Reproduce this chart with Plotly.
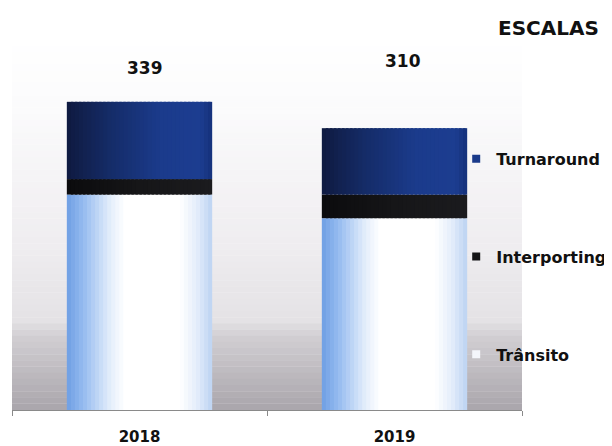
import plotly.graph_objects as go
import numpy as np

# ---- data ----
years = ["2018", "2019"]
transito = [237, 211]
interporting = [17, 26]
turnaround = [85, 73]
series_names = ["Trânsito", "Interporting", "Turnaround"]
chart_title = "ESCALAS"

series_values = [transito, interporting, turnaround]
totals = [a + b + c for a, b, c in zip(transito, interporting, turnaround)]
xpos = list(range(len(years)))

# ---- style ----
def hex2rgb(h):
    h = h.lstrip("#")
    return np.array([int(h[i:i + 2], 16) for i in (0, 2, 4)], dtype=float)

def grad(stops, t):
    for (t0, c0), (t1, c1) in zip(stops[:-1], stops[1:]):
        if t0 <= t <= t1:
            f = 0 if t1 == t0 else (t - t0) / (t1 - t0)
            c = hex2rgb(c0) * (1 - f) + hex2rgb(c1) * f
            return "rgb(%d,%d,%d)" % tuple(np.round(c))
    c = hex2rgb(stops[-1][1])
    return "rgb(%d,%d,%d)" % tuple(np.round(c))

gradients = [
    [(0, "#6e9fe4"), (0.12, "#98bdf0"), (0.3, "#e4eefb"), (0.4, "#ffffff"),
     (0.78, "#ffffff"), (0.9, "#e2ecfa"), (1.0, "#bcd3f2")],
    [(0, "#0b0b0d"), (0.5, "#161618"), (1.0, "#1b1b1e")],
    [(0, "#0f1a40"), (0.3, "#152c68"), (0.65, "#1b3b8c"), (0.92, "#1c3d90"), (1.0, "#15317a")],
]
legend_colors = ["#f4f6fb", "#141416", "#1a3a8a"]

bw = 0.57
N = 36
font = "DejaVu Sans"

fig = go.Figure()

base = [0] * len(years)
for si, (name, vals) in enumerate(zip(series_names, series_values)):
    for k in range(N):
        t = (k + 0.5) / N
        w = bw / N * (1 if k == N - 1 else 1.6)
        fig.add_trace(go.Bar(
            x=xpos, y=vals, base=base,
            width=w, offset=-bw / 2 + k * bw / N,
            marker=dict(color=grad(gradients[si], t), line=dict(width=0)),
            showlegend=False, legendgroup=name, name=name, hoverinfo="skip",
        ))
    base = [b + v for b, v in zip(base, vals)]

# legend entries (top to bottom: Turnaround, Interporting, Trânsito)
for si in reversed(range(len(series_names))):
    name = series_names[si]
    fig.add_trace(go.Scatter(
        x=[None], y=[None], mode="markers", name=name, legendgroup=name,
        marker=dict(symbol="square", size=8, color=legend_colors[si],
                    line=dict(width=0)),
    ))

# background gradient of plot area (top -> bottom)
bg_stops = [(0, "#ffffff"), (0.18, "#fbfbfc"), (0.55, "#efedf0"),
            (0.76, "#e4e2e5"), (0.8, "#d2cfd3"), (1.0, "#a9a5ab")]
M = 60
shapes = []
for i in range(M):
    y0 = 1 - i / M
    y1 = 1 - (i + 1) / M
    shapes.append(dict(type="rect", xref="paper", yref="paper", x0=0, x1=1,
                       y0=y1, y1=y0 + 0.001, layer="below",
                       fillcolor=grad(bg_stops, (i + 0.5) / M), line=dict(width=0)))

annotations = []
label_y = [0.924, 0.943]
label_dx = [5, 8]
for xp, tot, ly, dx in zip(xpos, totals, label_y, label_dx):
    annotations.append(dict(x=xp, y=ly, xref="x", yref="paper", text=str(tot),
                            showarrow=False, xshift=dx, xanchor="center",
                            yanchor="middle",
                            font=dict(family=font, size=17, color="#111111",
                                      weight="bold")))
annotations.append(dict(x=1.051, y=1.032, xref="paper", yref="paper",
                        text=chart_title, showarrow=False, xanchor="center",
                        yanchor="middle",
                        font=dict(family=font, size=20, color="#111111", weight="bold")))

fig.update_layout(
    width=604, height=438,
    margin=dict(l=4, r=90, t=32, b=36, autoexpand=False),
    barmode="overlay",
    paper_bgcolor="white",
    plot_bgcolor="white",
    shapes=shapes,
    annotations=annotations,
    showlegend=True,
    legend=dict(x=0.871, y=0.725, xanchor="left", yanchor="top",
                traceorder="grouped", tracegroupgap=74,
                bgcolor="rgba(0,0,0,0)",
                font=dict(family=font, size=16, color="#111111", weight="bold"),
                itemwidth=30),
    xaxis=dict(range=[-0.5, len(years) - 0.5], tickmode="array",
               tickvals=xpos, ticktext=years, showgrid=False, ticks="outside",
               ticklen=13, tickcolor="rgba(0,0,0,0)",
               zeroline=False, showline=True, linecolor="#8a8a8a", linewidth=1,
               tickfont=dict(family=font, size=15, color="#111111", weight="bold")),
    xaxis2=dict(overlaying="x", range=[-0.5, len(years) - 0.5], tickmode="array",
                tickvals=[v - 0.5 for v in xpos] + [len(years) - 0.5],
                ticktext=[""] * (len(years) + 1), ticks="outside", ticklen=5,
                tickcolor="#8a8a8a", side="bottom", showgrid=False, zeroline=False,
                showline=False),
    yaxis=dict(range=[0, 407], visible=False, showgrid=False, zeroline=False),
)
fig.add_trace(go.Scatter(x=[None], y=[None], xaxis="x2", showlegend=False))

fig.write_html("out.html")
